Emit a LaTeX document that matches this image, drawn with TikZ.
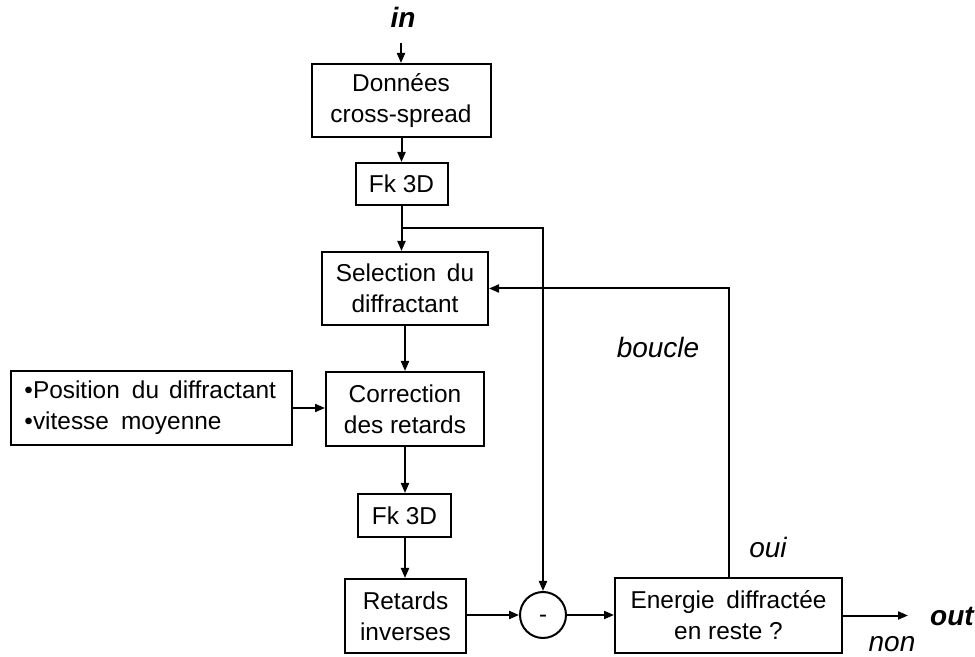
\documentclass[tikz,border=0pt]{standalone}
\usepackage{fontspec}
\setmainfont{Liberation Sans}
\usetikzlibrary{arrows.meta}
\begin{document}
\begin{tikzpicture}[x=0.5pt,y=-0.5pt,
  box/.style={draw,line width=1pt,inner sep=0pt,align=center,font=\fontsize{12.2}{15.5}\selectfont},
  lbl/.style={font=\fontsize{14}{16}\selectfont\itshape,inner sep=0pt},
  io/.style={font=\fontsize{14}{16}\selectfont\bfseries\itshape,inner sep=0pt},
  conn/.style={line width=1pt},
  arr/.style={line width=1pt,-{Triangle[length=5pt,width=4pt]}}]
\useasboundingbox (0,0) rectangle (975,657);
% nodes
\node[io] (in) at (403,17) {in};
\coordinate (inarr) at (401,43);
\node[box,minimum width=89.5pt,minimum height=36.5pt] (don) at (401,100.5) {Données\\cross-spread};
\node[box,minimum width=46pt,minimum height=21pt] (fk1) at (401.5,184) {Fk 3D};
\coordinate (br) at (401.5,228);
\node[box,minimum width=83pt,minimum height=36.5pt] (sel) at (405,288.5) {Selection\hspace{2pt} du\\diffractant};
\node[box,minimum width=140.5pt,minimum height=37pt,align=left,text width=127pt] (pos) at (151.5,408) {\mbox{•Position\hspace{2pt} du\hspace{1pt} diffractant}\\\mbox{•vitesse\hspace{2pt} moyenne}};
\node[box,minimum width=79pt,minimum height=37pt] (cor) at (405,409) {Correction\\des retards};
\node[box,minimum width=46.5pt,minimum height=21.5pt] (fk2) at (404.5,515.5) {Fk 3D};
\node[box,minimum width=60.5pt,minimum height=37pt] (ret) at (405.5,616) {Retards\\inverses};
\node[draw,circle,line width=1pt,minimum size=23pt,inner sep=0pt,font=\fontsize{12}{15}\selectfont] (circ) at (543,615) {\raisebox{-3.6pt}[0pt][0pt]{-}};
\node[box,minimum width=113.5pt,minimum height=37.5pt] (en) at (728.5,615.5) {Energie\hspace{2.5pt} diffractée\\en reste ?};
\coordinate (outend) at (908,615.5);
\node[io] (out) at (952,617) {out};
\node[lbl] (non) at (892,644) {non};
\node[lbl] (oui) at (768,547) {oui};
\node[lbl] (boucle) at (658,347) {boucle};
% connectors
\draw[arr] (inarr) -- (don.north -| inarr);
\draw[arr] (don.south -| fk1) -- (fk1.north);
\draw[arr] (fk1.south) -- (fk1.south |- sel.north);
\draw[arr] (br) -| (circ.north);
\draw[arr] (en.north) |- (sel.east);
\draw[arr] (sel.south) -- (cor.north);
\draw[arr] (pos.east) -- (pos.east -| cor.west);
\draw[arr] (cor.south) -- (cor.south |- fk2.north);
\draw[arr] (fk2.south -| cor.south) -- (ret.north -| cor.south);
\draw[arr] (ret.east |- circ.west) -- (circ.west);
\draw[arr] (circ.east) -- (circ.east -| en.west);
\draw[arr] (en.east |- outend) -- (outend);
\end{tikzpicture}
\end{document}
